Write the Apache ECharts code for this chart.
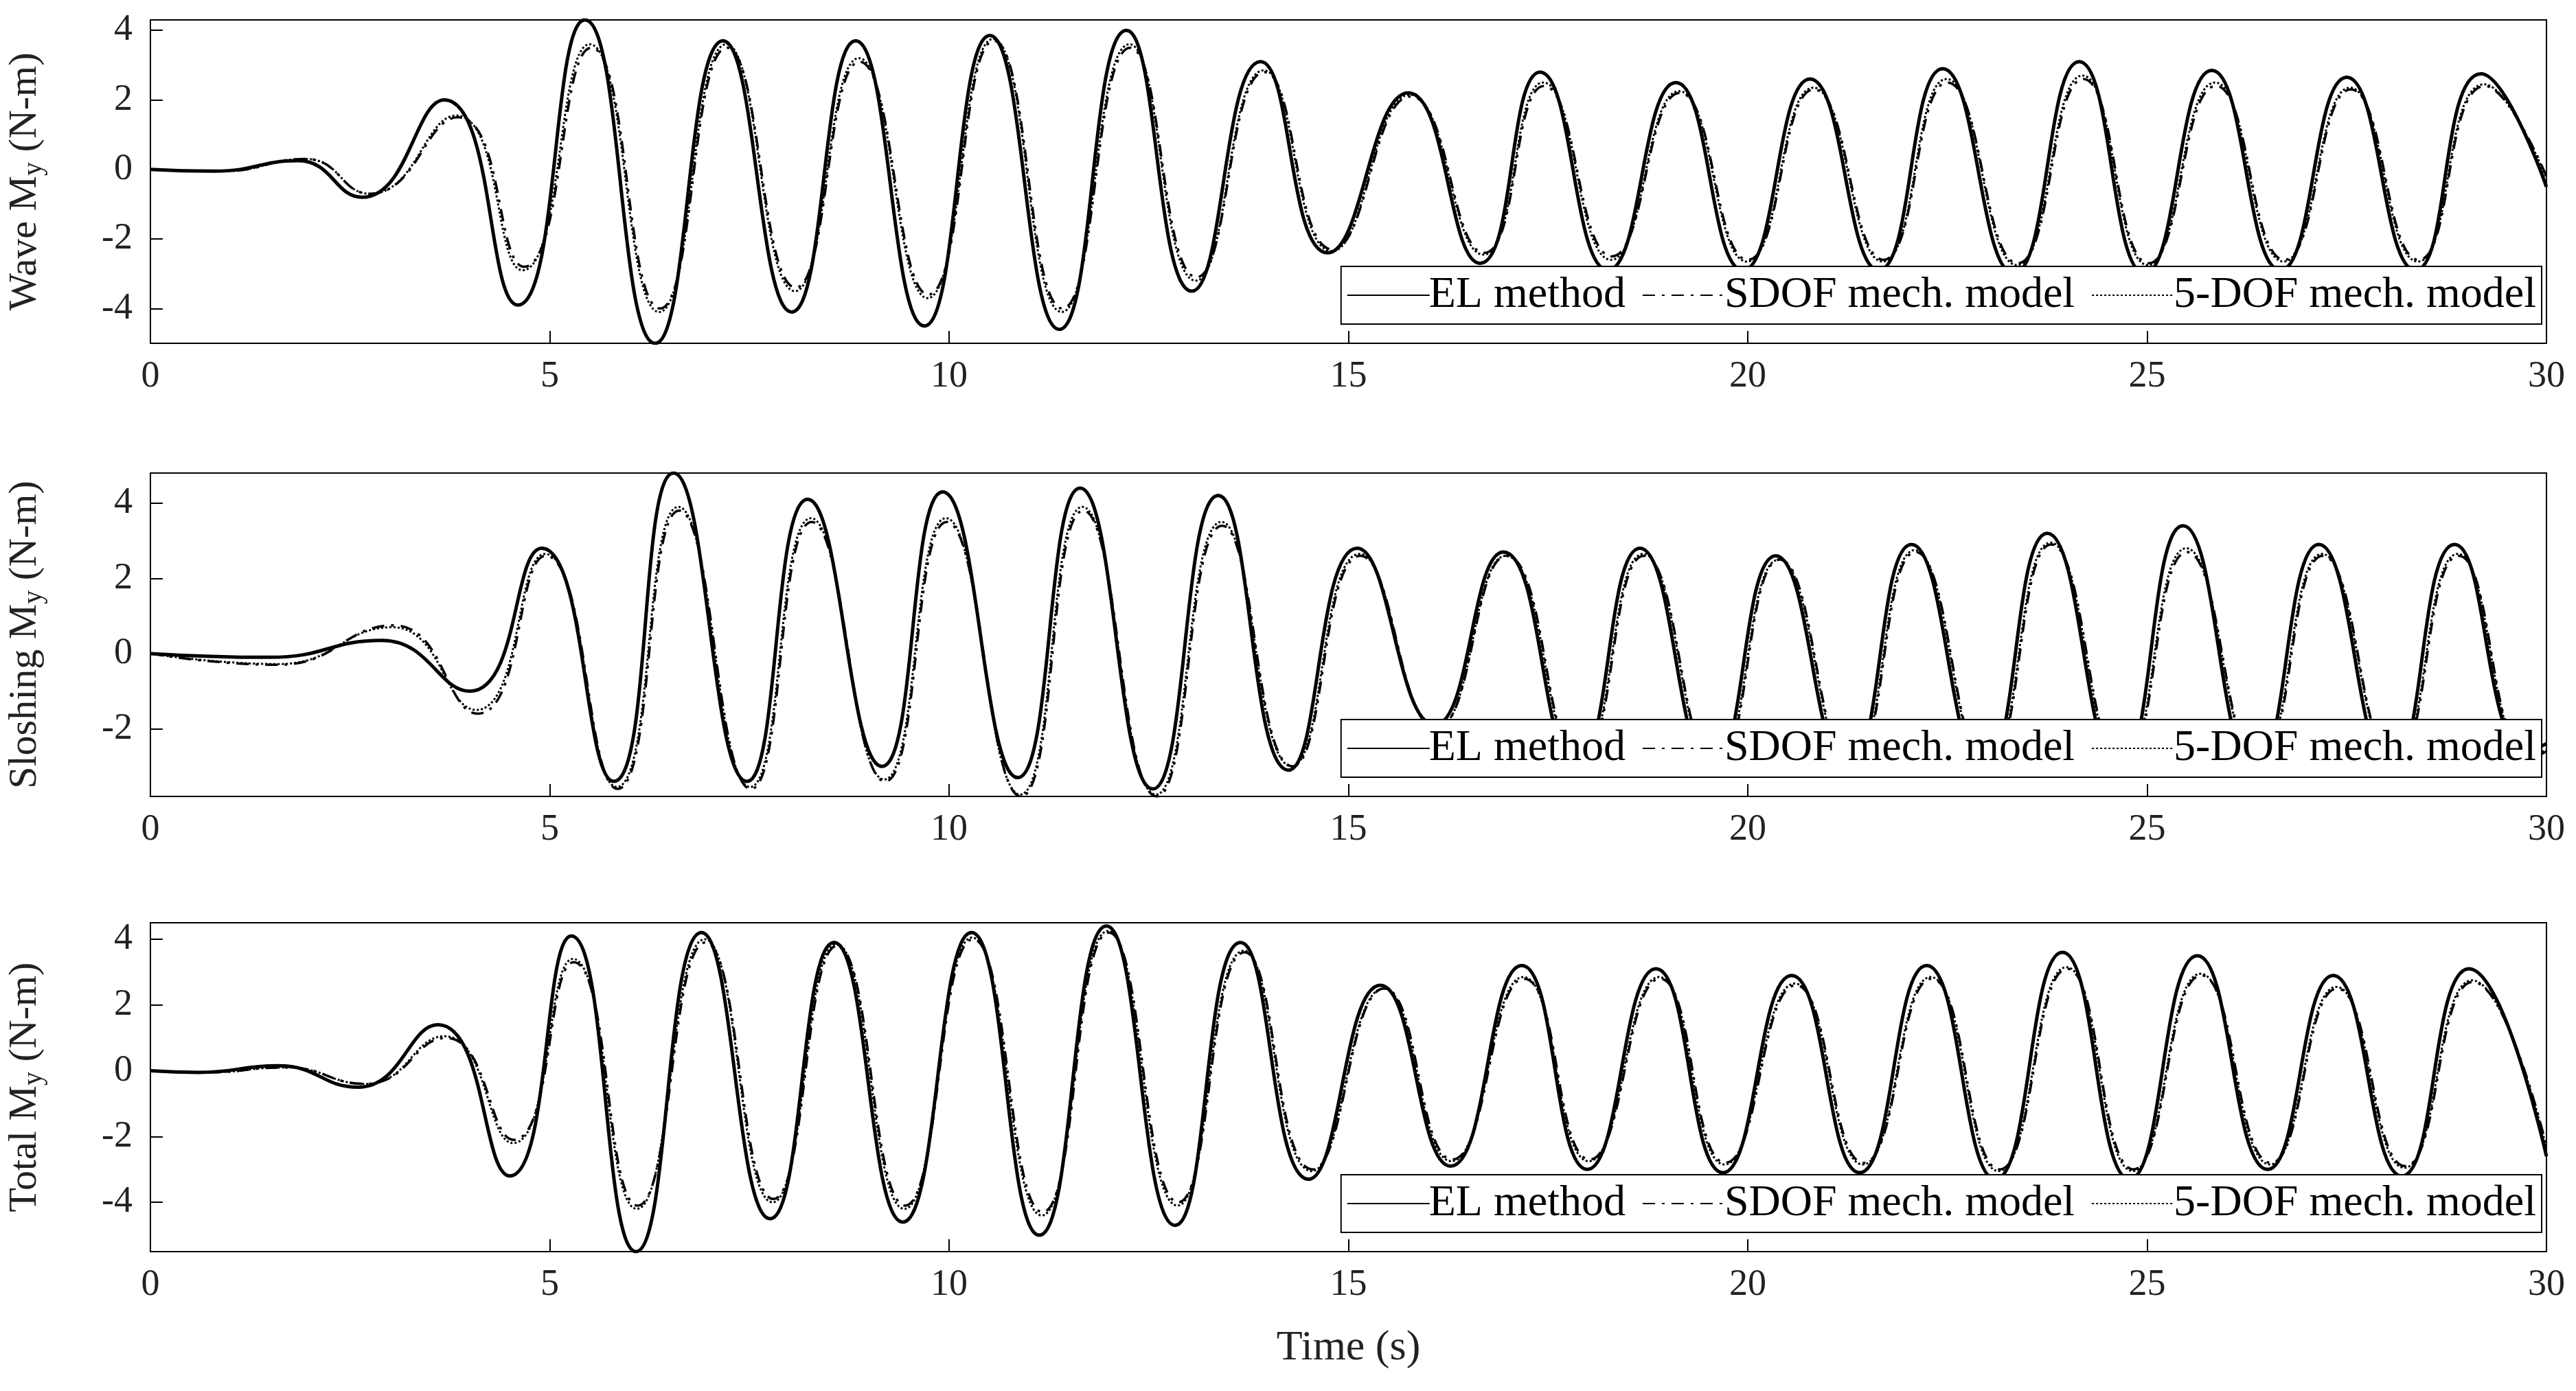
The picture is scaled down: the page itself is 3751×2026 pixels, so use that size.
<!DOCTYPE html>
<html><head><meta charset="utf-8">
<script src="https://cdn.jsdelivr.net/npm/echarts@6/dist/echarts.min.js"></script>
<style>html,body{margin:0;background:#fff}#c{width:3751px;height:2026px}</style>
</head><body><div id="c"></div>
<script>
// panel labels
const panels = ['Wave', 'Sloshing', 'Total']
const seriesNames = ['EL method', 'SDOF mech. model', '5-DOF mech. model']
const yTicks = [-4, -2, 0, 2, 4]
const yRanges = [[-5, 4.3], [-3.8, 4.8], [-5.5, 4.5]]

// wave moment: [time, value] at extrema
const waveEL = [[0,0],[0.8,-0.05],[1.85,0.25],[2.65,-0.8],[3.68,2.0],[4.6,-3.9],[5.44,4.3],[6.32,-5.0],[7.17,3.7],[8.03,-4.1],[8.83,3.7],[9.69,-4.5],[10.51,3.85],[11.38,-4.6],[12.22,4.0],[13.04,-3.5],[13.9,3.1],[14.74,-2.4],[15.75,2.2],[16.65,-2.7],[17.4,2.8],[18.25,-2.9],[19.1,2.5],[19.94,-2.9],[20.78,2.6],[21.64,-2.9],[22.44,2.9],[23.33,-3.0],[24.15,3.1],[24.97,-3.0],[25.81,2.85],[26.67,-2.9],[27.5,2.65],[28.36,-2.9],[29.18,2.75],[30,-0.5]]
const waveSDOF = [[0,0],[0.9,-0.05],[1.95,0.3],[2.75,-0.7],[3.85,1.5],[4.68,-2.8],[5.52,3.5],[6.38,-4.0],[7.22,3.5],[8.08,-3.4],[8.88,3.1],[9.74,-3.6],[10.56,3.7],[11.42,-4.0],[12.27,3.5],[13.1,-3.1],[13.95,2.8],[14.8,-2.3],[15.78,2.1],[16.7,-2.4],[17.45,2.4],[18.3,-2.5],[19.15,2.2],[20.0,-2.6],[20.83,2.3],[21.7,-2.6],[22.5,2.5],[23.38,-2.7],[24.2,2.6],[25.02,-2.7],[25.86,2.4],[26.72,-2.6],[27.55,2.3],[28.4,-2.6],[29.23,2.4],[30,-0.2]]
const wave5DOF = [[0,0],[0.9,-0.05],[1.95,0.3],[2.75,-0.7],[3.83,1.55],[4.66,-2.9],[5.5,3.6],[6.37,-4.1],[7.21,3.6],[8.07,-3.5],[8.87,3.2],[9.73,-3.7],[10.55,3.75],[11.41,-4.1],[12.26,3.6],[13.09,-3.2],[13.94,2.85],[14.79,-2.35],[15.77,2.15],[16.69,-2.45],[17.44,2.5],[18.29,-2.6],[19.14,2.25],[19.99,-2.65],[20.82,2.35],[21.69,-2.65],[22.49,2.6],[23.37,-2.75],[24.19,2.7],[25.01,-2.75],[25.85,2.5],[26.71,-2.65],[27.54,2.35],[28.39,-2.65],[29.22,2.45],[30,-0.25]]

// sloshing moment
const sloshEL = [[0,0],[1.5,-0.1],[2.9,0.35],[4.0,-1.0],[4.9,2.8],[5.8,-3.4],[6.55,4.8],[7.47,-3.4],[8.23,4.1],[9.16,-3.0],[9.92,4.3],[10.86,-3.3],[11.64,4.4],[12.55,-3.6],[13.37,4.2],[14.25,-3.1],[15.11,2.8],[16.08,-1.9],[16.94,2.7],[17.85,-3.0],[18.65,2.8],[19.55,-3.1],[20.35,2.6],[21.25,-3.1],[22.05,2.9],[22.95,-3.1],[23.75,3.2],[24.65,-3.1],[25.45,3.4],[26.35,-3.1],[27.15,2.9],[28.05,-3.1],[28.85,2.9],[29.75,-2.6],[30,-2.4]]
const sloshSDOF = [[0,0],[1.6,-0.3],[3.05,0.75],[4.1,-1.6],[4.95,2.6],[5.85,-3.6],[6.62,3.8],[7.52,-3.6],[8.28,3.5],[9.2,-3.4],[9.97,3.5],[10.9,-3.8],[11.68,3.8],[12.6,-3.8],[13.42,3.4],[14.3,-3.0],[15.15,2.6],[16.1,-2.0],[16.98,2.6],[17.9,-2.9],[18.7,2.6],[19.6,-3.0],[20.4,2.5],[21.3,-3.0],[22.1,2.7],[23.0,-3.0],[23.8,2.9],[24.7,-3.0],[25.5,2.7],[26.4,-2.9],[27.2,2.6],[28.1,-2.9],[28.9,2.6],[29.8,-2.8],[30,-2.6]]
const slosh5DOF = [[0,0],[1.6,-0.28],[3.03,0.7],[4.08,-1.5],[4.94,2.65],[5.84,-3.55],[6.61,3.9],[7.51,-3.55],[8.27,3.6],[9.19,-3.35],[9.96,3.6],[10.89,-3.75],[11.67,3.9],[12.59,-3.75],[13.41,3.5],[14.29,-3.0],[15.14,2.65],[16.1,-2.0],[16.97,2.6],[17.89,-2.9],[18.69,2.65],[19.59,-3.0],[20.39,2.5],[21.29,-3.0],[22.09,2.75],[22.99,-3.0],[23.79,2.95],[24.69,-3.0],[25.49,2.8],[26.39,-2.9],[27.19,2.65],[28.09,-2.9],[28.89,2.65],[29.79,-2.75],[30,-2.55]]

// total moment
const totalEL = [[0,0],[0.6,-0.05],[1.6,0.15],[2.6,-0.5],[3.6,1.4],[4.5,-3.2],[5.27,4.1],[6.08,-5.5],[6.9,4.2],[7.76,-4.5],[8.56,3.9],[9.42,-4.6],[10.28,4.2],[11.13,-5.0],[11.97,4.4],[12.83,-4.7],[13.65,3.9],[14.5,-3.3],[15.4,2.6],[16.28,-2.9],[17.17,3.2],[17.99,-3.0],[18.85,3.1],[19.69,-3.1],[20.55,2.9],[21.4,-3.1],[22.24,3.2],[23.1,-3.3],[23.94,3.6],[24.78,-3.3],[25.63,3.5],[26.51,-3.0],[27.33,2.9],[28.19,-3.2],[29.03,3.1],[30,-2.6]]
const totalSDOF = [[0,0],[0.7,-0.05],[1.7,0.1],[2.7,-0.4],[3.7,1.0],[4.55,-2.1],[5.3,3.3],[6.1,-4.1],[6.95,3.9],[7.8,-3.9],[8.6,3.8],[9.45,-4.1],[10.3,4.0],[11.17,-4.3],[12.0,4.2],[12.87,-4.0],[13.7,3.6],[14.55,-3.0],[15.45,2.5],[16.3,-2.7],[17.2,2.8],[18.02,-2.7],[18.9,2.8],[19.72,-2.8],[20.6,2.6],[21.45,-2.8],[22.3,2.8],[23.15,-3.0],[24.0,3.1],[24.83,-3.0],[25.68,2.9],[26.55,-2.8],[27.38,2.5],[28.23,-2.9],[29.08,2.7],[30,-2.3]]
const total5DOF = [[0,0],[0.7,-0.05],[1.7,0.1],[2.7,-0.4],[3.68,1.05],[4.54,-2.2],[5.29,3.4],[6.09,-4.2],[6.94,4.0],[7.79,-4.0],[8.59,3.85],[9.44,-4.2],[10.29,4.05],[11.16,-4.4],[11.99,4.25],[12.86,-4.1],[13.69,3.65],[14.54,-3.05],[15.44,2.5],[16.29,-2.75],[17.19,2.85],[18.01,-2.75],[18.89,2.85],[19.71,-2.85],[20.59,2.65],[21.44,-2.85],[22.29,2.85],[23.14,-3.05],[23.99,3.15],[24.82,-3.05],[25.67,2.95],[26.54,-2.85],[27.37,2.55],[28.22,-2.95],[29.07,2.75],[30,-2.35]]

const data = [[waveEL, waveSDOF, wave5DOF], [sloshEL, sloshSDOF, slosh5DOF], [totalEL, totalSDOF, total5DOF]]

const font = 'Liberation Serif'
const gridTops = [29, 689, 1344]
const gridHeights = [471, 471, 479]
const lineTypes = ['solid', [18, 10, 4, 10], [3, 3]]
const lineWidths = [5, 3.5, 3]

const grid = [], xAxis = [], yAxis = [], series = [], legend = []
panels.forEach((p, i) => {
  grid.push({ left: 213, width: 3495, top: gridTops[i], height: gridHeights[i], show: true, borderColor: '#000', borderWidth: 2 })
  xAxis.push({
    type: 'value', gridIndex: i, min: 0, max: 30, interval: 5,
    name: i === 2 ? 'Time (s)' : '', nameLocation: 'middle', nameGap: 110,
    nameTextStyle: { fontFamily: font, fontSize: 62, color: '#222' },
    axisLine: { onZero: false, lineStyle: { color: '#000', width: 2 } },
    axisTick: { inside: true, length: 18, lineStyle: { color: '#000', width: 2 } },
    axisLabel: { fontFamily: font, fontSize: 54, color: '#222', margin: 22 },
    splitLine: { show: false }
  })
  yAxis.push({
    type: 'value', gridIndex: i, min: yRanges[i][0], max: yRanges[i][1],
    name: '{a|' + p + ' M}{s|y}{a| (N-m)}', nameLocation: 'middle', nameGap: 150,
    nameTextStyle: { rich: { a: { fontFamily: font, fontSize: 58, color: '#222' }, s: { fontFamily: font, fontSize: 40, color: '#222', padding: [24, 0, 0, 0] } } },
    axisLine: { show: true, onZero: false, lineStyle: { color: '#000', width: 2 } },
    axisTick: { inside: true, length: 18, customValues: yTicks, lineStyle: { color: '#000', width: 2 } },
    axisLabel: { fontFamily: font, fontSize: 54, color: '#222', margin: 26, customValues: yTicks },
    splitLine: { show: false }
  })
  seriesNames.forEach((n, k) => {
    series.push({
      type: 'line', name: n, xAxisIndex: i, yAxisIndex: i, data: data[i][k],
      smooth: 0.5, symbol: 'none', z: 3 - k,
      lineStyle: { color: '#000', width: lineWidths[k], type: lineTypes[k] }
    })
  })
  legend.push({
    data: seriesNames, orient: 'horizontal', right: 50, top: gridTops[i] + gridHeights[i] - 112,
    itemWidth: 120, itemHeight: 10, itemGap: 24, padding: [10, 8],
    backgroundColor: '#fff', borderColor: '#000', borderWidth: 2, z: 10,
    itemStyle: { color: 'transparent', borderWidth: 0 },
    textStyle: { fontFamily: font, fontSize: 64, color: '#000', padding: [0, 0, 0, -6] },
    selectedMode: false
  })
})

const chart = echarts.init(document.getElementById('c'))
chart.setOption({ animation: false, backgroundColor: '#fff', grid, xAxis, yAxis, series, legend })
</script>
</body></html>
